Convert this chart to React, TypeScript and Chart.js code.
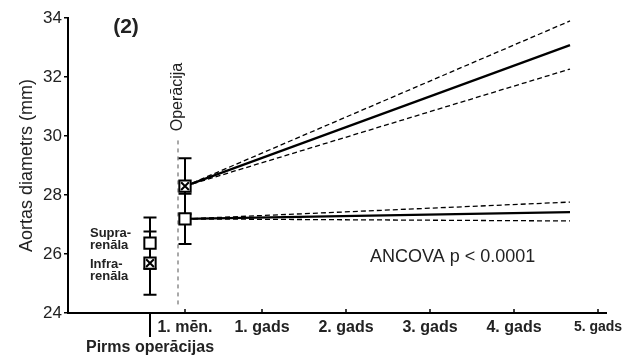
import React, { useEffect, useRef } from "react";
import { Chart, registerables } from "chart.js";
Chart.register(...registerables);

const FONT = "'Liberation Sans', Arial, Helvetica, sans-serif";

// x axis in months after the operation
const tickMonths = [-4, 1, 12, 24, 36, 48, 60];
const tickLabels = ["Pirms operācijas", "1. mēn.", "1. gads", "2. gads", "3. gads", "4. gads", "5. gads"];
const yMin = 24;
const yMax = 34;
const yStep = 2;

// observed means ± error (pre-op, 1 month)
const pointMonths = [-4, 1];
const supraMean = [26.37, 27.19];
const supraErr = [0.87, 0.85];
const infraMean = [25.69, 28.3];
const infraErr = [1.07, 0.95];

// regression lines with confidence limits
const fitMonths = [1, 56];
const supraFit = [27.19, 27.42];
const supraUpper = [27.19, 27.76];
const supraLower = [27.19, 27.12];
const infraFit = [28.3, 33.08];
const infraUpper = [28.3, 33.9];
const infraLower = [28.3, 32.27];

const xy = (xs: number[], ys: number[]) => xs.map((x, i) => ({ x, y: ys[i] }));

export default function App() {
  const ref = useRef<HTMLCanvasElement | null>(null);

  useEffect(() => {
    if (!ref.current) return;

    const errorBars = {
      id: "errorBars",
      beforeDatasetsDraw(chart: any) {
        const { ctx } = chart;
        const xs = chart.scales.x;
        const ys = chart.scales.y;
        ctx.save();
        ctx.strokeStyle = "#000";
        ctx.lineWidth = 2;
        const series = [
          [supraMean, supraErr],
          [infraMean, infraErr],
        ];
        series.forEach(([m, e]) => {
          pointMonths.forEach((mo, i) => {
            const x = xs.getPixelForValue(mo);
            const yt = ys.getPixelForValue(m[i] + e[i]);
            const yb = ys.getPixelForValue(m[i] - e[i]);
            ctx.beginPath();
            ctx.moveTo(x, yt);
            ctx.lineTo(x, yb);
            ctx.moveTo(x - 6.5, yt);
            ctx.lineTo(x + 6.5, yt);
            ctx.moveTo(x - 6.5, yb);
            ctx.lineTo(x + 6.5, yb);
            ctx.stroke();
          });
        });
        // operation dashed line
        const x0 = xs.getPixelForValue(0);
        ctx.lineWidth = 1;
        ctx.strokeStyle = "#555";
        ctx.setLineDash([4, 4]);
        ctx.beginPath();
        ctx.moveTo(x0, ys.getPixelForValue(29.85));
        ctx.lineTo(x0, ys.getPixelForValue(24.25));
        ctx.stroke();
        ctx.restore();
      },
      afterDraw(chart: any) {
        const { ctx } = chart;
        const xs = chart.scales.x;
        const ys = chart.scales.y;
        const base = ys.getPixelForValue(yMin);
        ctx.save();
        ctx.strokeStyle = "#000";
        // inward ticks
        ctx.lineWidth = 1.5;
        tickMonths.forEach((m) => {
          if (m < 0) return;
          const x = xs.getPixelForValue(m);
          ctx.beginPath();
          ctx.moveTo(x, base);
          ctx.lineTo(x, base - 4);
          ctx.stroke();
        });
        // pre-op separator tick
        ctx.lineWidth = 2;
        const xp = xs.getPixelForValue(tickMonths[0]);
        ctx.beginPath();
        ctx.moveTo(xp, base);
        ctx.lineTo(xp, base + 24);
        ctx.stroke();

        ctx.fillStyle = "#222";
        // Operācija label
        ctx.save();
        ctx.translate(xs.getPixelForValue(0), ys.getPixelForValue(31.32));
        ctx.rotate(-Math.PI / 2);
        ctx.font = `16px ${FONT}`;
        ctx.textAlign = "center";
        ctx.textBaseline = "middle";
        ctx.fillText("Operācija", 0, 0);
        ctx.restore();

        ctx.textBaseline = "middle";
        ctx.textAlign = "center";
        ctx.font = `bold 21px ${FONT}`;
        ctx.fillText("(2)", 126, 27);

        ctx.textAlign = "left";
        ctx.font = `bold 13px ${FONT}`;
        ctx.fillText("Supra-", 90, 233);
        ctx.fillText("renāla", 90, 245);
        ctx.fillText("Infra-", 90, 264);
        ctx.fillText("renāla", 90, 276);

        ctx.font = `18px ${FONT}`;
        ctx.fillText("ANCOVA p < 0.0001", 370, 257);
        ctx.restore();
      },
    };

    const lineDs = (data: any, dashed: boolean) => ({
      type: "line",
      data,
      borderColor: "#000",
      borderWidth: dashed ? 1.3 : 2.2,
      borderDash: dashed ? [5, 3] : [],
      pointRadius: 0,
      fill: false,
      order: 2,
    });

    const chart = new Chart(ref.current, {
      type: "line",
      data: {
        datasets: [
          lineDs(xy(fitMonths, infraFit), false),
          lineDs(xy(fitMonths, infraUpper), true),
          lineDs(xy(fitMonths, infraLower), true),
          lineDs(xy(fitMonths, supraFit), false),
          lineDs(xy(fitMonths, supraUpper), true),
          lineDs(xy(fitMonths, supraLower), true),
          {
            data: xy(pointMonths, supraMean),
            showLine: false,
            pointStyle: "rect",
            pointRadius: 8,
            pointBorderWidth: 2,
            pointBackgroundColor: "#fff",
            pointBorderColor: "#000",
            order: 1,
          },
          {
            data: xy(pointMonths, infraMean),
            showLine: false,
            pointStyle: "rect",
            pointRadius: 8,
            pointBorderWidth: 2,
            pointBackgroundColor: "#fff",
            pointBorderColor: "#000",
            order: 1,
          },
          {
            data: xy(pointMonths, infraMean),
            showLine: false,
            pointStyle: "crossRot",
            pointRadius: 5.5,
            pointBorderWidth: 2,
            pointBorderColor: "#000",
            order: 0,
          },
        ] as any,
      },
      options: {
        responsive: false,
        animation: false,
        devicePixelRatio: 1,
        layout: { padding: { left: 0, top: 18, right: 34, bottom: 0 } },
        plugins: { legend: { display: false }, tooltip: { enabled: false } },
        scales: {
          x: {
            type: "linear",
            min: -110 / 7,
            max: 428 / 7,
            afterBuildTicks: (s: any) => {
              s.ticks = tickMonths.map((v) => ({ value: v }));
            },
            afterFit: (s: any) => {
              s.height = 45;
            },
            grid: { display: true, drawOnChartArea: false, drawTicks: false },
            border: { display: true, color: "#000", width: 2 },
            ticks: {
              autoSkip: false,
              maxRotation: 0,
              minRotation: 0,
              padding: 5,
              color: "#222",
              font: (c: any) => ({
                family: FONT,
                weight: "bold",
                size: c.tick && c.tick.value === 60 ? 14 : 16,
                lineHeight: 1.25,
              }),
              callback: (v: any, i: number) => (i === 0 ? ["", tickLabels[0]] : tickLabels[i]),
            },
          },
          y: {
            min: yMin,
            max: yMax,
            afterFit: (s: any) => {
              s.width = 68;
            },
            grid: { display: true, drawOnChartArea: false, drawTicks: true, tickLength: 4, color: "#000", lineWidth: 1.5 },
            border: { display: true, color: "#000", width: 2 },
            ticks: {
              stepSize: yStep,
              padding: 2,
              color: "#222",
              font: { family: FONT, size: 17 },
            },
            title: {
              display: true,
              text: "Aortas diametrs (mm)",
              color: "#222",
              font: { family: FONT, size: 18 },
              padding: { top: 16, bottom: 0 },
            },
          },
        },
      } as any,
      plugins: [errorBars],
    });
    return () => chart.destroy();
  }, []);

  return (
    <div style={{ position: "absolute", left: 0, top: 0, width: 640, height: 358, background: "#fff" }}>
      <canvas ref={ref} width={640} height={358} />
    </div>
  );
}
